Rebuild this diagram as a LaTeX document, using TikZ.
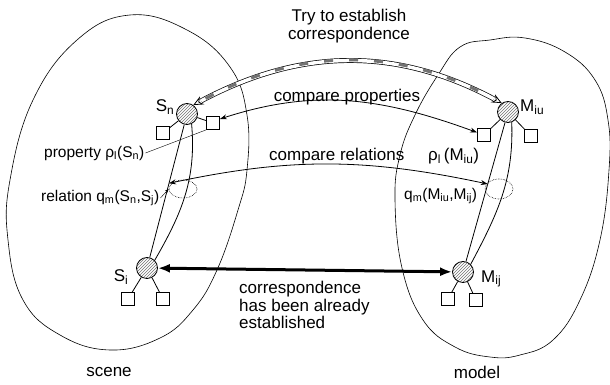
\documentclass[tikz,border=0pt]{standalone}
\usepackage{fontspec}
\setmainfont{Liberation Sans}
\usetikzlibrary{arrows.meta,positioning,calc,patterns,shapes.geometric}
\tikzset{
  obj/.style={circle,draw,line width=.8pt,minimum size=21pt,inner sep=0pt,
              pattern=north east lines,pattern color=black!55},
  attr/.style={draw,line width=.8pt,minimum size=13pt,inner sep=0pt,fill=white},
  lbl/.style={font=\fontsize{17}{17.5}\selectfont,inner sep=1pt},
  side/.style={font=\fontsize{15.5}{17}\selectfont,inner sep=1pt},
  region/.style={draw,line width=.6pt},
  tie/.style={line width=.8pt},
  cmp/.style={{Stealth[length=7pt,width=5pt]}-{Stealth[length=7pt,width=5pt]},
              line width=.8pt},
  corr/.style={{Latex[length=12pt,width=9pt]}-{Latex[length=12pt,width=9pt]},
               line width=3pt},
  loopmark/.style={ellipse,draw,densely dotted,line width=.6pt,inner sep=0pt},
  lead/.style={line width=.4pt},
  tipopen/.tip={Stealth[open,length=10pt,width=9pt,line width=.8pt,color=black,fill=white]},
}

\begin{document}
\begin{tikzpicture}[x=1pt,y=1pt]
  \useasboundingbox (0,0) rectangle (610,385);
  % scene and model
  \draw[region] plot[smooth cycle,tension=.7] coordinates {
    (130,370) (187,355) (230,318) (247,270) (247,215) (238,175) (217,115)
    (193,75) (160,47) (110,35) (60,50) (23,85) (8,145) (10,205) (33,285) (77,345)};
  \draw[region] plot[smooth cycle,tension=.7] coordinates {
    (460,338) (490,345) (525,347) (565,333) (595,305) (608,265) (609,215)
    (600,145) (580,85) (553,45) (520,30) (490,28) (455,38) (423,65) (402,117)
    (395,185) (400,230) (415,270) (438,310)};
  % objects
  \node[obj] (sn) at (187,271) {};
  \node[obj] (si) at (147,117) {};
  \node[obj] (mu) at (508,273) {};
  \node[obj] (mj) at (463,113) {};
  \node[attr] (snL) at (163,252) {};
  \node[attr] (snR) at (213,262) {};
  \node[attr] (siL) at (128,86) {};
  \node[attr] (siR) at (163,86) {};
  \node[attr] (muL) at (484,250) {};
  \node[attr] (muR) at (531,249) {};
  \node[attr] (mjL) at (448,86) {};
  \node[attr] (mjR) at (476,85) {};
  \foreach \a/\b in {sn/snL,sn/snR,si/siL,si/siR,mu/muL,mu/muR,mj/mjL,mj/mjR}
    {\draw[tie] (\a) -- (\b);}
  \node[lbl] (lsn) at (165,278) {S\textsubscript{n}};
  \node[lbl] (lsi) at (121,108) {S\textsubscript{i}};
  \node[lbl,anchor=west] (lmu) at (519,278) {M\textsubscript{iu}};
  \node[lbl,anchor=west] (lmj) at (480,106) {M\textsubscript{ij}};
  % relations
  \draw[tie] (sn) -- (si);
  \draw[tie] (sn.-65) to[out=-85,in=60] (si.45);
  \draw[tie] (mu) -- (mj);
  \draw[tie] (mu.-70) to[out=-88,in=62] (mj.45);
  \node[loopmark,minimum width=28pt,minimum height=18pt] (rlS) at (183,196) {};
  \node[loopmark,minimum width=28pt,minimum height=20pt] (rlM) at (499,196) {};
  \coordinate (rS) at ($(sn)!.45!(si)$);
  \coordinate (rM) at ($(mu)!.45!(mj)$);
  % correspondences
  \draw[white,line width=.1pt,{tipopen}-{tipopen}] (sn.55) to[out=28,in=152] (mu.125);
  \draw[double=white,double distance=3.5pt,line width=.7pt,shorten <=9pt,shorten >=9pt]
    (sn.55) to[out=28,in=152] (mu.125);
  \draw[black!55,line width=3pt,dash pattern=on 9pt off 16pt,shorten <=14pt,shorten >=14pt]
    (sn.55) to[out=28,in=152] (mu.125);
  \draw[cmp] (snR.30) to[out=18,in=160] (muL.160);
  \draw[cmp] (rS) to[out=12,in=168] (rM);
  \draw[corr] (si) -- (mj);
  % texts
  \node[lbl,align=center] (try) at (349,359) {Try to establish\\correspondence};
  \node[lbl] (cprop) at (347,288) {compare properties};
  \node[lbl,anchor=west] (crel) at (268,229) {compare relations};
  \node[lbl,anchor=west] (pmu) at (427,229) {ρ\textsubscript{l}\,(M\textsubscript{iu})};
  \node[side,anchor=west] (psn) at (43,232) {property ρ\textsubscript{l}(S\textsubscript{n})};
  \node[side,anchor=west] (qsn) at (40,187) {relation q\textsubscript{m}(S\textsubscript{n},S\textsubscript{j})};
  \node[side,anchor=west] (qmu) at (403,189) {q\textsubscript{m}(M\textsubscript{iu},M\textsubscript{ij})};
  \node[lbl,anchor=west,align=left] (done) at (238,80)
    {correspondence\\has been already\\established};
  \node[lbl] (scene) at (109,13) {scene};
  \node[lbl] (model) at (477,13) {model};
  \draw[lead] (psn.east) -- (snR.south west);
  \draw[lead,-{Stealth[length=4pt,width=3pt]}] (qsn.east) -- (rlS.west);
\end{tikzpicture}
\end{document}
